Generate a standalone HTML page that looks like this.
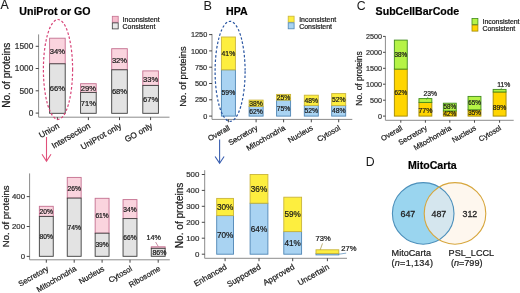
<!DOCTYPE html>
<html><head><meta charset="utf-8"><style>
html,body{margin:0;padding:0;background:#fff;width:520px;height:293px;overflow:hidden;}
svg{display:block;font-family:"Liberation Sans", sans-serif;will-change:transform;filter:blur(0.3px);}
</style></head><body>
<svg width="520" height="293" viewBox="0 0 520 293" font-family='"Liberation Sans", sans-serif'>
<rect width="520" height="293" fill="#ffffff"/>
<text x="0.40" y="9.25" font-size="12.3" text-anchor="start" font-weight="normal" fill="#1a1a1a" stroke="#1a1a1a" stroke-width="0.15">A</text>
<text x="19.30" y="14.90" font-size="10.6" text-anchor="start" font-weight="bold" fill="#000" stroke="#000" stroke-width="0.2">UniProt or GO</text>
<rect x="112.30" y="16.30" width="5.90" height="6.00" fill="#f6bccc" stroke="#c46f8f" stroke-width="0.8"/>
<rect x="112.30" y="22.90" width="5.90" height="6.00" fill="#e8e8e8" stroke="#3d3d3d" stroke-width="0.8"/>
<text x="122.60" y="21.70" font-size="6.95" text-anchor="start" font-weight="normal" fill="#1a1a1a" stroke="#1a1a1a" stroke-width="0.22">Inconsistent</text>
<text x="122.60" y="28.60" font-size="6.95" text-anchor="start" font-weight="normal" fill="#1a1a1a" stroke="#1a1a1a" stroke-width="0.22">Consistent</text>
<line x1="38.60" y1="34.40" x2="38.60" y2="117.20" stroke="#8c8c8c" stroke-width="1"/>
<line x1="35.70" y1="46.30" x2="38.60" y2="46.30" stroke="#333333" stroke-width="0.9"/>
<text x="33.30" y="49.29" font-size="8.3" text-anchor="end" font-weight="normal" fill="#333333" stroke="#333333" stroke-width="0.22">1500</text>
<line x1="35.70" y1="68.50" x2="38.60" y2="68.50" stroke="#333333" stroke-width="0.9"/>
<text x="33.30" y="71.49" font-size="8.3" text-anchor="end" font-weight="normal" fill="#333333" stroke="#333333" stroke-width="0.22">1000</text>
<line x1="35.70" y1="90.80" x2="38.60" y2="90.80" stroke="#333333" stroke-width="0.9"/>
<text x="33.30" y="93.79" font-size="8.3" text-anchor="end" font-weight="normal" fill="#333333" stroke="#333333" stroke-width="0.22">500</text>
<line x1="35.70" y1="113.10" x2="38.60" y2="113.10" stroke="#333333" stroke-width="0.9"/>
<text x="33.30" y="116.09" font-size="8.3" text-anchor="end" font-weight="normal" fill="#333333" stroke="#333333" stroke-width="0.22">0</text>
<text x="9.80" y="75.30" font-size="10.0" text-anchor="middle" font-weight="normal" fill="#1a1a1a" stroke="#1a1a1a" stroke-width="0.22" transform="rotate(-90 9.80 75.30)">No. of proteins</text>
<rect x="49.60" y="38.20" width="15.60" height="25.60" fill="#fad4de" stroke="#c46f8f" stroke-width="0.9"/>
<rect x="49.60" y="63.80" width="15.60" height="49.50" fill="#e3e3e3" stroke="#3d3d3d" stroke-width="0.9"/>
<text x="57.40" y="54.34" font-size="7.6" text-anchor="middle" font-weight="normal" fill="#1a1a1a" stroke="#1a1a1a" stroke-width="0.22">34%</text>
<text x="57.40" y="91.29" font-size="7.6" text-anchor="middle" font-weight="normal" fill="#1a1a1a" stroke="#1a1a1a" stroke-width="0.22">66%</text>
<rect x="80.60" y="83.70" width="15.60" height="8.70" fill="#fad4de" stroke="#c46f8f" stroke-width="0.9"/>
<rect x="80.60" y="92.40" width="15.60" height="20.90" fill="#e3e3e3" stroke="#3d3d3d" stroke-width="0.9"/>
<text x="88.40" y="91.39" font-size="7.6" text-anchor="middle" font-weight="normal" fill="#1a1a1a" stroke="#1a1a1a" stroke-width="0.22">29%</text>
<text x="88.40" y="105.59" font-size="7.6" text-anchor="middle" font-weight="normal" fill="#1a1a1a" stroke="#1a1a1a" stroke-width="0.22">71%</text>
<rect x="111.70" y="48.70" width="15.60" height="21.10" fill="#fad4de" stroke="#c46f8f" stroke-width="0.9"/>
<rect x="111.70" y="69.80" width="15.60" height="43.50" fill="#e3e3e3" stroke="#3d3d3d" stroke-width="0.9"/>
<text x="119.50" y="62.99" font-size="7.6" text-anchor="middle" font-weight="normal" fill="#1a1a1a" stroke="#1a1a1a" stroke-width="0.22">32%</text>
<text x="119.50" y="94.29" font-size="7.6" text-anchor="middle" font-weight="normal" fill="#1a1a1a" stroke="#1a1a1a" stroke-width="0.22">68%</text>
<rect x="142.80" y="70.90" width="15.60" height="14.50" fill="#fad4de" stroke="#c46f8f" stroke-width="0.9"/>
<rect x="142.80" y="85.40" width="15.60" height="27.90" fill="#e3e3e3" stroke="#3d3d3d" stroke-width="0.9"/>
<text x="150.60" y="81.89" font-size="7.6" text-anchor="middle" font-weight="normal" fill="#1a1a1a" stroke="#1a1a1a" stroke-width="0.22">33%</text>
<text x="150.60" y="102.09" font-size="7.6" text-anchor="middle" font-weight="normal" fill="#1a1a1a" stroke="#1a1a1a" stroke-width="0.22">67%</text>
<line x1="38.60" y1="117.20" x2="169.50" y2="117.20" stroke="#8c8c8c" stroke-width="1"/>
<line x1="57.40" y1="117.20" x2="57.40" y2="120.10" stroke="#333333" stroke-width="0.9"/>
<text x="59.90" y="127.40" font-size="8.3" text-anchor="end" font-weight="normal" fill="#1a1a1a" stroke="#1a1a1a" stroke-width="0.22" transform="rotate(-30 59.90 127.40)">Union</text>
<line x1="88.40" y1="117.20" x2="88.40" y2="120.10" stroke="#333333" stroke-width="0.9"/>
<text x="90.90" y="127.40" font-size="8.3" text-anchor="end" font-weight="normal" fill="#1a1a1a" stroke="#1a1a1a" stroke-width="0.22" transform="rotate(-30 90.90 127.40)">Intersection</text>
<line x1="119.50" y1="117.20" x2="119.50" y2="120.10" stroke="#333333" stroke-width="0.9"/>
<text x="122.00" y="127.40" font-size="8.3" text-anchor="end" font-weight="normal" fill="#1a1a1a" stroke="#1a1a1a" stroke-width="0.22" transform="rotate(-30 122.00 127.40)">UniProt only</text>
<line x1="150.60" y1="117.20" x2="150.60" y2="120.10" stroke="#333333" stroke-width="0.9"/>
<text x="153.10" y="127.40" font-size="8.3" text-anchor="end" font-weight="normal" fill="#1a1a1a" stroke="#1a1a1a" stroke-width="0.22" transform="rotate(-30 153.10 127.40)">GO only</text>
<ellipse cx="58.0" cy="69.4" rx="14.6" ry="49.9" fill="none" stroke="#d84478" stroke-width="1.2" stroke-dasharray="2.5 1.9"/>
<line x1="46.50" y1="137.00" x2="46.50" y2="161.00" stroke="#e0507a" stroke-width="1.1"/>
<polyline points="42,154.3 46.5,161.2 51,154.3" fill="none" stroke="#e0507a" stroke-width="1.1"/>
<line x1="29.60" y1="173.40" x2="29.60" y2="259.80" stroke="#8c8c8c" stroke-width="1"/>
<line x1="26.70" y1="196.60" x2="29.60" y2="196.60" stroke="#333333" stroke-width="0.9"/>
<text x="25.00" y="199.41" font-size="7.8" text-anchor="end" font-weight="normal" fill="#333333" stroke="#333333" stroke-width="0.22">400</text>
<line x1="26.70" y1="226.50" x2="29.60" y2="226.50" stroke="#333333" stroke-width="0.9"/>
<text x="25.00" y="229.31" font-size="7.8" text-anchor="end" font-weight="normal" fill="#333333" stroke="#333333" stroke-width="0.22">200</text>
<line x1="26.70" y1="256.40" x2="29.60" y2="256.40" stroke="#333333" stroke-width="0.9"/>
<text x="25.00" y="259.21" font-size="7.8" text-anchor="end" font-weight="normal" fill="#333333" stroke="#333333" stroke-width="0.22">0</text>
<text x="9.10" y="216.30" font-size="9.5" text-anchor="middle" font-weight="normal" fill="#1a1a1a" stroke="#1a1a1a" stroke-width="0.22" transform="rotate(-90 9.10 216.30)">No. of proteins</text>
<rect x="39.35" y="206.30" width="13.90" height="10.10" fill="#fad4de" stroke="#c46f8f" stroke-width="0.9"/>
<rect x="39.35" y="216.40" width="13.90" height="39.90" fill="#e3e3e3" stroke="#3d3d3d" stroke-width="0.9"/>
<text x="46.30" y="213.76" font-size="6.7" text-anchor="middle" font-weight="normal" fill="#1a1a1a" stroke="#1a1a1a" stroke-width="0.22">20%</text>
<text x="46.30" y="238.76" font-size="6.7" text-anchor="middle" font-weight="normal" fill="#1a1a1a" stroke="#1a1a1a" stroke-width="0.22">80%</text>
<rect x="67.25" y="177.40" width="13.90" height="20.70" fill="#fad4de" stroke="#c46f8f" stroke-width="0.9"/>
<rect x="67.25" y="198.10" width="13.90" height="58.20" fill="#e3e3e3" stroke="#3d3d3d" stroke-width="0.9"/>
<text x="74.20" y="191.36" font-size="6.7" text-anchor="middle" font-weight="normal" fill="#1a1a1a" stroke="#1a1a1a" stroke-width="0.22">26%</text>
<text x="74.20" y="229.61" font-size="6.7" text-anchor="middle" font-weight="normal" fill="#1a1a1a" stroke="#1a1a1a" stroke-width="0.22">74%</text>
<rect x="95.15" y="198.30" width="13.90" height="34.90" fill="#fad4de" stroke="#c46f8f" stroke-width="0.9"/>
<rect x="95.15" y="233.20" width="13.90" height="23.10" fill="#e3e3e3" stroke="#3d3d3d" stroke-width="0.9"/>
<text x="102.10" y="218.16" font-size="6.7" text-anchor="middle" font-weight="normal" fill="#1a1a1a" stroke="#1a1a1a" stroke-width="0.22">61%</text>
<text x="102.10" y="247.16" font-size="6.7" text-anchor="middle" font-weight="normal" fill="#1a1a1a" stroke="#1a1a1a" stroke-width="0.22">39%</text>
<rect x="123.05" y="199.60" width="13.90" height="19.00" fill="#fad4de" stroke="#c46f8f" stroke-width="0.9"/>
<rect x="123.05" y="218.60" width="13.90" height="37.70" fill="#e3e3e3" stroke="#3d3d3d" stroke-width="0.9"/>
<text x="130.00" y="211.51" font-size="6.7" text-anchor="middle" font-weight="normal" fill="#1a1a1a" stroke="#1a1a1a" stroke-width="0.22">34%</text>
<text x="130.00" y="239.86" font-size="6.7" text-anchor="middle" font-weight="normal" fill="#1a1a1a" stroke="#1a1a1a" stroke-width="0.22">66%</text>
<rect x="151.25" y="246.80" width="13.90" height="1.50" fill="#fad4de" stroke="#c46f8f" stroke-width="0.9"/>
<rect x="151.25" y="248.30" width="13.90" height="8.00" fill="#e3e3e3" stroke="#3d3d3d" stroke-width="0.9"/>
<text x="159.40" y="255.12" font-size="7.0" text-anchor="middle" font-weight="normal" fill="#1a1a1a" stroke="#1a1a1a" stroke-width="0.22">86%</text>
<line x1="29.60" y1="259.80" x2="169.80" y2="259.80" stroke="#8c8c8c" stroke-width="1"/>
<line x1="46.30" y1="259.80" x2="46.30" y2="262.70" stroke="#333333" stroke-width="0.9"/>
<text x="49.10" y="270.20" font-size="7.75" text-anchor="end" font-weight="normal" fill="#1a1a1a" stroke="#1a1a1a" stroke-width="0.22" transform="rotate(-30 49.10 270.20)">Secretory</text>
<line x1="74.20" y1="259.80" x2="74.20" y2="262.70" stroke="#333333" stroke-width="0.9"/>
<text x="77.00" y="270.20" font-size="7.75" text-anchor="end" font-weight="normal" fill="#1a1a1a" stroke="#1a1a1a" stroke-width="0.22" transform="rotate(-30 77.00 270.20)">Mitochondria</text>
<line x1="102.10" y1="259.80" x2="102.10" y2="262.70" stroke="#333333" stroke-width="0.9"/>
<text x="104.90" y="270.20" font-size="7.75" text-anchor="end" font-weight="normal" fill="#1a1a1a" stroke="#1a1a1a" stroke-width="0.22" transform="rotate(-30 104.90 270.20)">Nucleus</text>
<line x1="130.00" y1="259.80" x2="130.00" y2="262.70" stroke="#333333" stroke-width="0.9"/>
<text x="132.80" y="270.20" font-size="7.75" text-anchor="end" font-weight="normal" fill="#1a1a1a" stroke="#1a1a1a" stroke-width="0.22" transform="rotate(-30 132.80 270.20)">Cytosol</text>
<line x1="158.20" y1="259.80" x2="158.20" y2="262.70" stroke="#333333" stroke-width="0.9"/>
<text x="161.00" y="270.20" font-size="7.75" text-anchor="end" font-weight="normal" fill="#1a1a1a" stroke="#1a1a1a" stroke-width="0.22" transform="rotate(-30 161.00 270.20)">Ribosome</text>
<text x="153.70" y="240.10" font-size="7.2" text-anchor="middle" font-weight="normal" fill="#1a1a1a" stroke="#1a1a1a" stroke-width="0.22">14%</text>
<line x1="155.60" y1="242.00" x2="158.20" y2="246.40" stroke="#b06080" stroke-width="0.7"/>
<text x="203.40" y="10.10" font-size="12.7" text-anchor="start" font-weight="normal" fill="#1a1a1a">B</text>
<text x="226.00" y="15.00" font-size="10.6" text-anchor="start" font-weight="bold" fill="#000" stroke="#000" stroke-width="0.2">HPA</text>
<rect x="288.20" y="16.20" width="5.90" height="6.00" fill="#fdee3f" stroke="#c9b43a" stroke-width="0.8"/>
<rect x="288.20" y="22.80" width="5.90" height="6.00" fill="#a9d3f2" stroke="#4f86b5" stroke-width="0.8"/>
<text x="299.20" y="21.60" font-size="6.95" text-anchor="start" font-weight="normal" fill="#1a1a1a" stroke="#1a1a1a" stroke-width="0.22">Inconsistent</text>
<text x="299.20" y="28.50" font-size="6.95" text-anchor="start" font-weight="normal" fill="#1a1a1a" stroke="#1a1a1a" stroke-width="0.22">Consistent</text>
<line x1="212.00" y1="33.90" x2="212.00" y2="119.40" stroke="#8c8c8c" stroke-width="1"/>
<line x1="209.10" y1="34.60" x2="212.00" y2="34.60" stroke="#333333" stroke-width="0.9"/>
<text x="207.20" y="37.23" font-size="7.3" text-anchor="end" font-weight="normal" fill="#333333" stroke="#333333" stroke-width="0.22">1250</text>
<line x1="209.10" y1="50.90" x2="212.00" y2="50.90" stroke="#333333" stroke-width="0.9"/>
<text x="207.20" y="53.53" font-size="7.3" text-anchor="end" font-weight="normal" fill="#333333" stroke="#333333" stroke-width="0.22">1000</text>
<line x1="209.10" y1="67.20" x2="212.00" y2="67.20" stroke="#333333" stroke-width="0.9"/>
<text x="207.20" y="69.83" font-size="7.3" text-anchor="end" font-weight="normal" fill="#333333" stroke="#333333" stroke-width="0.22">750</text>
<line x1="209.10" y1="83.50" x2="212.00" y2="83.50" stroke="#333333" stroke-width="0.9"/>
<text x="207.20" y="86.13" font-size="7.3" text-anchor="end" font-weight="normal" fill="#333333" stroke="#333333" stroke-width="0.22">500</text>
<line x1="209.10" y1="99.80" x2="212.00" y2="99.80" stroke="#333333" stroke-width="0.9"/>
<text x="207.20" y="102.43" font-size="7.3" text-anchor="end" font-weight="normal" fill="#333333" stroke="#333333" stroke-width="0.22">250</text>
<line x1="209.10" y1="116.10" x2="212.00" y2="116.10" stroke="#333333" stroke-width="0.9"/>
<text x="207.20" y="118.73" font-size="7.3" text-anchor="end" font-weight="normal" fill="#333333" stroke="#333333" stroke-width="0.22">0</text>
<text x="186.10" y="76.60" font-size="9.3" text-anchor="middle" font-weight="normal" fill="#1a1a1a" stroke="#1a1a1a" stroke-width="0.22" transform="rotate(-90 186.10 76.60)">No. of proteins</text>
<rect x="221.40" y="69.80" width="14.00" height="46.30" fill="#a9d3f2" stroke="#4f86b5" stroke-width="0.9"/>
<rect x="221.40" y="37.00" width="14.00" height="32.80" fill="#fdee3f" stroke="#c9b43a" stroke-width="0.9"/>
<text x="228.40" y="55.85" font-size="6.8" text-anchor="middle" font-weight="normal" fill="#1a1a1a" stroke="#1a1a1a" stroke-width="0.22">41%</text>
<text x="228.40" y="95.40" font-size="6.8" text-anchor="middle" font-weight="normal" fill="#1a1a1a" stroke="#1a1a1a" stroke-width="0.22">59%</text>
<rect x="249.10" y="106.40" width="14.00" height="9.70" fill="#a9d3f2" stroke="#4f86b5" stroke-width="0.9"/>
<rect x="249.10" y="100.10" width="14.00" height="6.30" fill="#fdee3f" stroke="#c9b43a" stroke-width="0.9"/>
<text x="256.10" y="105.70" font-size="6.8" text-anchor="middle" font-weight="normal" fill="#1a1a1a" stroke="#1a1a1a" stroke-width="0.22">38%</text>
<text x="256.10" y="113.70" font-size="6.8" text-anchor="middle" font-weight="normal" fill="#1a1a1a" stroke="#1a1a1a" stroke-width="0.22">62%</text>
<rect x="276.60" y="100.10" width="14.00" height="16.00" fill="#a9d3f2" stroke="#4f86b5" stroke-width="0.9"/>
<rect x="276.60" y="94.40" width="14.00" height="5.70" fill="#fdee3f" stroke="#c9b43a" stroke-width="0.9"/>
<text x="283.60" y="99.70" font-size="6.8" text-anchor="middle" font-weight="normal" fill="#1a1a1a" stroke="#1a1a1a" stroke-width="0.22">25%</text>
<text x="283.60" y="110.55" font-size="6.8" text-anchor="middle" font-weight="normal" fill="#1a1a1a" stroke="#1a1a1a" stroke-width="0.22">75%</text>
<rect x="304.30" y="105.40" width="14.00" height="10.70" fill="#a9d3f2" stroke="#4f86b5" stroke-width="0.9"/>
<rect x="304.30" y="95.20" width="14.00" height="10.20" fill="#fdee3f" stroke="#c9b43a" stroke-width="0.9"/>
<text x="311.30" y="102.75" font-size="6.8" text-anchor="middle" font-weight="normal" fill="#1a1a1a" stroke="#1a1a1a" stroke-width="0.22">48%</text>
<text x="311.30" y="113.20" font-size="6.8" text-anchor="middle" font-weight="normal" fill="#1a1a1a" stroke="#1a1a1a" stroke-width="0.22">52%</text>
<rect x="331.70" y="105.60" width="14.00" height="10.50" fill="#a9d3f2" stroke="#4f86b5" stroke-width="0.9"/>
<rect x="331.70" y="93.60" width="14.00" height="12.00" fill="#fdee3f" stroke="#c9b43a" stroke-width="0.9"/>
<text x="338.70" y="102.05" font-size="6.8" text-anchor="middle" font-weight="normal" fill="#1a1a1a" stroke="#1a1a1a" stroke-width="0.22">52%</text>
<text x="338.70" y="113.30" font-size="6.8" text-anchor="middle" font-weight="normal" fill="#1a1a1a" stroke="#1a1a1a" stroke-width="0.22">48%</text>
<line x1="212.00" y1="119.40" x2="352.30" y2="119.40" stroke="#8c8c8c" stroke-width="1"/>
<line x1="228.40" y1="119.40" x2="228.40" y2="122.30" stroke="#333333" stroke-width="0.9"/>
<text x="230.60" y="129.30" font-size="7.6" text-anchor="end" font-weight="normal" fill="#1a1a1a" stroke="#1a1a1a" stroke-width="0.22" transform="rotate(-30 230.60 129.30)">Overall</text>
<line x1="256.10" y1="119.40" x2="256.10" y2="122.30" stroke="#333333" stroke-width="0.9"/>
<text x="258.30" y="129.30" font-size="7.6" text-anchor="end" font-weight="normal" fill="#1a1a1a" stroke="#1a1a1a" stroke-width="0.22" transform="rotate(-30 258.30 129.30)">Secretory</text>
<line x1="283.60" y1="119.40" x2="283.60" y2="122.30" stroke="#333333" stroke-width="0.9"/>
<text x="285.80" y="129.30" font-size="7.6" text-anchor="end" font-weight="normal" fill="#1a1a1a" stroke="#1a1a1a" stroke-width="0.22" transform="rotate(-30 285.80 129.30)">Mitochondria</text>
<line x1="311.30" y1="119.40" x2="311.30" y2="122.30" stroke="#333333" stroke-width="0.9"/>
<text x="313.50" y="129.30" font-size="7.6" text-anchor="end" font-weight="normal" fill="#1a1a1a" stroke="#1a1a1a" stroke-width="0.22" transform="rotate(-30 313.50 129.30)">Nucleus</text>
<line x1="338.70" y1="119.40" x2="338.70" y2="122.30" stroke="#333333" stroke-width="0.9"/>
<text x="340.90" y="129.30" font-size="7.6" text-anchor="end" font-weight="normal" fill="#1a1a1a" stroke="#1a1a1a" stroke-width="0.22" transform="rotate(-30 340.90 129.30)">Cytosol</text>
<ellipse cx="230.1" cy="71.3" rx="15.0" ry="50.0" fill="none" stroke="#2a56a2" stroke-width="1.2" stroke-dasharray="2.5 1.9"/>
<line x1="219.60" y1="139.40" x2="219.60" y2="163.00" stroke="#3a5fb0" stroke-width="1.1"/>
<polyline points="215.1,156.5 219.6,163.3 224.1,156.5" fill="none" stroke="#3a5fb0" stroke-width="1.1"/>
<line x1="204.70" y1="170.20" x2="204.70" y2="258.30" stroke="#8c8c8c" stroke-width="1"/>
<line x1="201.80" y1="174.50" x2="204.70" y2="174.50" stroke="#333333" stroke-width="0.9"/>
<text x="199.40" y="177.34" font-size="7.9" text-anchor="end" font-weight="normal" fill="#333333" stroke="#333333" stroke-width="0.22">500</text>
<line x1="201.80" y1="190.40" x2="204.70" y2="190.40" stroke="#333333" stroke-width="0.9"/>
<text x="199.40" y="193.24" font-size="7.9" text-anchor="end" font-weight="normal" fill="#333333" stroke="#333333" stroke-width="0.22">400</text>
<line x1="201.80" y1="206.30" x2="204.70" y2="206.30" stroke="#333333" stroke-width="0.9"/>
<text x="199.40" y="209.14" font-size="7.9" text-anchor="end" font-weight="normal" fill="#333333" stroke="#333333" stroke-width="0.22">300</text>
<line x1="201.80" y1="222.30" x2="204.70" y2="222.30" stroke="#333333" stroke-width="0.9"/>
<text x="199.40" y="225.14" font-size="7.9" text-anchor="end" font-weight="normal" fill="#333333" stroke="#333333" stroke-width="0.22">200</text>
<line x1="201.80" y1="238.20" x2="204.70" y2="238.20" stroke="#333333" stroke-width="0.9"/>
<text x="199.40" y="241.04" font-size="7.9" text-anchor="end" font-weight="normal" fill="#333333" stroke="#333333" stroke-width="0.22">100</text>
<line x1="201.80" y1="254.20" x2="204.70" y2="254.20" stroke="#333333" stroke-width="0.9"/>
<text x="199.40" y="257.04" font-size="7.9" text-anchor="end" font-weight="normal" fill="#333333" stroke="#333333" stroke-width="0.22">0</text>
<text x="182.60" y="215.40" font-size="10.1" text-anchor="middle" font-weight="normal" fill="#1a1a1a" stroke="#1a1a1a" stroke-width="0.22" transform="rotate(-90 182.60 215.40)">No. of proteins</text>
<rect x="216.70" y="215.60" width="16.80" height="38.60" fill="#a9d3f2" stroke="#4f86b5" stroke-width="0.9"/>
<rect x="216.70" y="198.40" width="16.80" height="17.20" fill="#fdee3f" stroke="#c9b43a" stroke-width="0.9"/>
<text x="225.10" y="209.95" font-size="8.2" text-anchor="middle" font-weight="normal" fill="#1a1a1a" stroke="#1a1a1a" stroke-width="0.22">30%</text>
<text x="225.10" y="237.85" font-size="8.2" text-anchor="middle" font-weight="normal" fill="#1a1a1a" stroke="#1a1a1a" stroke-width="0.22">70%</text>
<rect x="250.10" y="203.20" width="17.80" height="51.00" fill="#a9d3f2" stroke="#4f86b5" stroke-width="0.9"/>
<rect x="250.10" y="174.50" width="17.80" height="28.70" fill="#fdee3f" stroke="#c9b43a" stroke-width="0.9"/>
<text x="259.00" y="191.80" font-size="8.2" text-anchor="middle" font-weight="normal" fill="#1a1a1a" stroke="#1a1a1a" stroke-width="0.22">36%</text>
<text x="259.00" y="231.65" font-size="8.2" text-anchor="middle" font-weight="normal" fill="#1a1a1a" stroke="#1a1a1a" stroke-width="0.22">64%</text>
<rect x="283.80" y="231.60" width="17.80" height="22.60" fill="#a9d3f2" stroke="#4f86b5" stroke-width="0.9"/>
<rect x="283.80" y="197.20" width="17.80" height="34.40" fill="#fdee3f" stroke="#c9b43a" stroke-width="0.9"/>
<text x="292.70" y="217.35" font-size="8.2" text-anchor="middle" font-weight="normal" fill="#1a1a1a" stroke="#1a1a1a" stroke-width="0.22">59%</text>
<text x="292.70" y="245.85" font-size="8.2" text-anchor="middle" font-weight="normal" fill="#1a1a1a" stroke="#1a1a1a" stroke-width="0.22">41%</text>
<rect x="316.00" y="253.60" width="22.80" height="1.30" fill="#a9d3f2" stroke="#4f86b5" stroke-width="0.9"/>
<rect x="316.00" y="249.80" width="22.80" height="3.80" fill="#fdee3f" stroke="#c9b43a" stroke-width="0.9"/>
<line x1="204.70" y1="258.30" x2="347.00" y2="258.30" stroke="#8c8c8c" stroke-width="1"/>
<line x1="225.10" y1="258.30" x2="225.10" y2="261.20" stroke="#333333" stroke-width="0.9"/>
<text x="227.50" y="268.50" font-size="8.1" text-anchor="end" font-weight="normal" fill="#1a1a1a" stroke="#1a1a1a" stroke-width="0.22" transform="rotate(-30 227.50 268.50)">Enhanced</text>
<line x1="259.00" y1="258.30" x2="259.00" y2="261.20" stroke="#333333" stroke-width="0.9"/>
<text x="261.40" y="268.50" font-size="8.1" text-anchor="end" font-weight="normal" fill="#1a1a1a" stroke="#1a1a1a" stroke-width="0.22" transform="rotate(-30 261.40 268.50)">Supported</text>
<line x1="292.70" y1="258.30" x2="292.70" y2="261.20" stroke="#333333" stroke-width="0.9"/>
<text x="295.10" y="268.50" font-size="8.1" text-anchor="end" font-weight="normal" fill="#1a1a1a" stroke="#1a1a1a" stroke-width="0.22" transform="rotate(-30 295.10 268.50)">Approved</text>
<line x1="327.40" y1="258.30" x2="327.40" y2="261.20" stroke="#333333" stroke-width="0.9"/>
<text x="329.80" y="268.50" font-size="8.1" text-anchor="end" font-weight="normal" fill="#1a1a1a" stroke="#1a1a1a" stroke-width="0.22" transform="rotate(-30 329.80 268.50)">Uncertain</text>
<text x="323.20" y="241.20" font-size="7.6" text-anchor="middle" font-weight="normal" fill="#1a1a1a" stroke="#1a1a1a" stroke-width="0.22">73%</text>
<line x1="322.50" y1="243.40" x2="320.20" y2="249.80" stroke="#a09040" stroke-width="0.7"/>
<text x="341.30" y="251.20" font-size="7.6" text-anchor="start" font-weight="normal" fill="#1a1a1a" stroke="#1a1a1a" stroke-width="0.22">27%</text>
<line x1="339.10" y1="254.20" x2="346.20" y2="253.10" stroke="#4f86b5" stroke-width="0.7"/>
<text x="356.80" y="9.80" font-size="12.3" text-anchor="start" font-weight="normal" fill="#1a1a1a">C</text>
<text x="375.60" y="14.90" font-size="10.6" text-anchor="start" font-weight="bold" fill="#000" stroke="#000" stroke-width="0.2">SubCellBarCode</text>
<rect x="472.00" y="18.50" width="5.90" height="6.00" fill="#b5f346" stroke="#3f8a1c" stroke-width="0.8"/>
<rect x="472.00" y="25.10" width="5.90" height="6.00" fill="#ffd500" stroke="#a08800" stroke-width="0.8"/>
<text x="482.50" y="23.90" font-size="6.95" text-anchor="start" font-weight="normal" fill="#1a1a1a" stroke="#1a1a1a" stroke-width="0.22">Inconsistent</text>
<text x="482.50" y="30.80" font-size="6.95" text-anchor="start" font-weight="normal" fill="#1a1a1a" stroke="#1a1a1a" stroke-width="0.22">Consistent</text>
<line x1="385.40" y1="36.20" x2="385.40" y2="120.30" stroke="#8c8c8c" stroke-width="1"/>
<line x1="383.00" y1="36.40" x2="385.40" y2="36.40" stroke="#333333" stroke-width="0.9"/>
<text x="382.00" y="38.99" font-size="7.2" text-anchor="end" font-weight="normal" fill="#333333" stroke="#333333" stroke-width="0.22">2500</text>
<line x1="383.00" y1="52.30" x2="385.40" y2="52.30" stroke="#333333" stroke-width="0.9"/>
<text x="382.00" y="54.89" font-size="7.2" text-anchor="end" font-weight="normal" fill="#333333" stroke="#333333" stroke-width="0.22">2000</text>
<line x1="383.00" y1="68.30" x2="385.40" y2="68.30" stroke="#333333" stroke-width="0.9"/>
<text x="382.00" y="70.89" font-size="7.2" text-anchor="end" font-weight="normal" fill="#333333" stroke="#333333" stroke-width="0.22">1500</text>
<line x1="383.00" y1="84.20" x2="385.40" y2="84.20" stroke="#333333" stroke-width="0.9"/>
<text x="382.00" y="86.79" font-size="7.2" text-anchor="end" font-weight="normal" fill="#333333" stroke="#333333" stroke-width="0.22">1000</text>
<line x1="383.00" y1="100.20" x2="385.40" y2="100.20" stroke="#333333" stroke-width="0.9"/>
<text x="382.00" y="102.79" font-size="7.2" text-anchor="end" font-weight="normal" fill="#333333" stroke="#333333" stroke-width="0.22">500</text>
<line x1="383.00" y1="116.10" x2="385.40" y2="116.10" stroke="#333333" stroke-width="0.9"/>
<text x="382.00" y="118.69" font-size="7.2" text-anchor="end" font-weight="normal" fill="#333333" stroke="#333333" stroke-width="0.22">0</text>
<text x="361.60" y="78.50" font-size="8.35" text-anchor="middle" font-weight="normal" fill="#1a1a1a" stroke="#1a1a1a" stroke-width="0.22" transform="rotate(-90 361.60 78.50)">No. of proteins</text>
<rect x="394.35" y="69.10" width="12.90" height="47.00" fill="#ffd500" stroke="#a08800" stroke-width="0.9"/>
<rect x="394.35" y="40.10" width="12.90" height="29.00" fill="#b5f346" stroke="#3f8a1c" stroke-width="0.9"/>
<text x="400.80" y="56.87" font-size="6.3" text-anchor="middle" font-weight="normal" fill="#1a1a1a" stroke="#1a1a1a" stroke-width="0.22">38%</text>
<text x="400.80" y="94.87" font-size="6.3" text-anchor="middle" font-weight="normal" fill="#1a1a1a" stroke="#1a1a1a" stroke-width="0.22">62%</text>
<rect x="418.95" y="102.40" width="12.90" height="13.70" fill="#ffd500" stroke="#a08800" stroke-width="0.9"/>
<rect x="418.95" y="98.60" width="12.90" height="3.80" fill="#b5f346" stroke="#3f8a1c" stroke-width="0.9"/>
<text x="425.40" y="113.07" font-size="7.0" text-anchor="middle" font-weight="normal" fill="#1a1a1a" stroke="#1a1a1a" stroke-width="0.22">77%</text>
<rect x="443.35" y="111.00" width="12.90" height="5.10" fill="#ffd500" stroke="#a08800" stroke-width="0.9"/>
<rect x="443.35" y="103.20" width="12.90" height="7.80" fill="#b5f346" stroke="#3f8a1c" stroke-width="0.9"/>
<text x="449.80" y="109.37" font-size="6.3" text-anchor="middle" font-weight="normal" fill="#1a1a1a" stroke="#1a1a1a" stroke-width="0.22">58%</text>
<text x="449.80" y="115.82" font-size="6.3" text-anchor="middle" font-weight="normal" fill="#1a1a1a" stroke="#1a1a1a" stroke-width="0.22">42%</text>
<rect x="468.05" y="109.80" width="12.90" height="6.30" fill="#ffd500" stroke="#a08800" stroke-width="0.9"/>
<rect x="468.05" y="96.40" width="12.90" height="13.40" fill="#b5f346" stroke="#3f8a1c" stroke-width="0.9"/>
<text x="474.50" y="105.37" font-size="6.3" text-anchor="middle" font-weight="normal" fill="#1a1a1a" stroke="#1a1a1a" stroke-width="0.22">65%</text>
<text x="474.50" y="115.22" font-size="6.3" text-anchor="middle" font-weight="normal" fill="#1a1a1a" stroke="#1a1a1a" stroke-width="0.22">35%</text>
<rect x="493.15" y="92.00" width="12.90" height="24.10" fill="#ffd500" stroke="#a08800" stroke-width="0.9"/>
<rect x="493.15" y="89.40" width="12.90" height="2.60" fill="#b5f346" stroke="#3f8a1c" stroke-width="0.9"/>
<text x="499.60" y="110.20" font-size="6.8" text-anchor="middle" font-weight="normal" fill="#1a1a1a" stroke="#1a1a1a" stroke-width="0.22">89%</text>
<line x1="385.40" y1="120.30" x2="513.70" y2="120.30" stroke="#8c8c8c" stroke-width="1"/>
<line x1="400.80" y1="120.30" x2="400.80" y2="122.70" stroke="#333333" stroke-width="0.9"/>
<text x="403.00" y="129.50" font-size="7.35" text-anchor="end" font-weight="normal" fill="#1a1a1a" stroke="#1a1a1a" stroke-width="0.22" transform="rotate(-30 403.00 129.50)">Overall</text>
<line x1="425.40" y1="120.30" x2="425.40" y2="122.70" stroke="#333333" stroke-width="0.9"/>
<text x="427.60" y="129.50" font-size="7.35" text-anchor="end" font-weight="normal" fill="#1a1a1a" stroke="#1a1a1a" stroke-width="0.22" transform="rotate(-30 427.60 129.50)">Secretory</text>
<line x1="449.80" y1="120.30" x2="449.80" y2="122.70" stroke="#333333" stroke-width="0.9"/>
<text x="452.00" y="129.50" font-size="7.35" text-anchor="end" font-weight="normal" fill="#1a1a1a" stroke="#1a1a1a" stroke-width="0.22" transform="rotate(-30 452.00 129.50)">Mitochondria</text>
<line x1="474.50" y1="120.30" x2="474.50" y2="122.70" stroke="#333333" stroke-width="0.9"/>
<text x="476.70" y="129.50" font-size="7.35" text-anchor="end" font-weight="normal" fill="#1a1a1a" stroke="#1a1a1a" stroke-width="0.22" transform="rotate(-30 476.70 129.50)">Nucleus</text>
<line x1="499.60" y1="120.30" x2="499.60" y2="122.70" stroke="#333333" stroke-width="0.9"/>
<text x="501.80" y="129.50" font-size="7.35" text-anchor="end" font-weight="normal" fill="#1a1a1a" stroke="#1a1a1a" stroke-width="0.22" transform="rotate(-30 501.80 129.50)">Cytosol</text>
<text x="430.30" y="96.40" font-size="6.8" text-anchor="middle" font-weight="normal" fill="#1a1a1a" stroke="#1a1a1a" stroke-width="0.22">23%</text>
<line x1="428.00" y1="97.00" x2="426.50" y2="99.50" stroke="#3f8a1c" stroke-width="0.6"/>
<text x="503.80" y="86.90" font-size="6.8" text-anchor="middle" font-weight="normal" fill="#1a1a1a" stroke="#1a1a1a" stroke-width="0.22">11%</text>
<line x1="502.00" y1="87.50" x2="500.50" y2="89.50" stroke="#3f8a1c" stroke-width="0.6"/>
<text x="365.80" y="166.00" font-size="12.3" text-anchor="start" font-weight="normal" fill="#1a1a1a">D</text>
<text x="407.90" y="169.00" font-size="10.6" text-anchor="start" font-weight="bold" fill="#000" stroke="#000" stroke-width="0.2">MitoCarta</text>
<circle cx="455" cy="213.4" r="30.8" fill="#fef7ee" stroke="none"/>
<circle cx="423.2" cy="213.4" r="30.8" fill="#9ad5ef" stroke="none"/>
<clipPath id="cl"><circle cx="455" cy="213.4" r="30.8"/></clipPath>
<circle cx="423.2" cy="213.4" r="30.8" fill="#d5e6ee" clip-path="url(#cl)"/>
<circle cx="423.2" cy="213.4" r="30.8" fill="none" stroke="#4d90bb" stroke-width="1.1"/>
<circle cx="455" cy="213.4" r="30.8" fill="none" stroke="#d7a63c" stroke-width="1.1"/>
<text x="407.90" y="216.60" font-size="8.9" text-anchor="middle" font-weight="normal" fill="#222" stroke="#222" stroke-width="0.28">647</text>
<text x="438.90" y="216.60" font-size="8.9" text-anchor="middle" font-weight="normal" fill="#222" stroke="#222" stroke-width="0.28">487</text>
<text x="469.90" y="216.60" font-size="8.9" text-anchor="middle" font-weight="normal" fill="#222" stroke="#222" stroke-width="0.28">312</text>
<text x="391.60" y="256.00" font-size="9.1" text-anchor="start" font-weight="normal" fill="#222" stroke="#222" stroke-width="0.22">MitoCarta</text>
<text x="391.40" y="265.60" font-size="9.1" text-anchor="start" font-weight="normal" fill="#222" stroke="#222" stroke-width="0.22" letter-spacing="0.3">(<tspan font-style="italic">n</tspan>=1,134)</text>
<text x="448.60" y="256.00" font-size="9.1" text-anchor="start" font-weight="normal" fill="#222" stroke="#222" stroke-width="0.22">PSL_LCCL</text>
<text x="450.90" y="265.60" font-size="9.1" text-anchor="start" font-weight="normal" fill="#222" stroke="#222" stroke-width="0.22">(<tspan font-style="italic">n</tspan>=799)</text>
</svg>
</body></html>
